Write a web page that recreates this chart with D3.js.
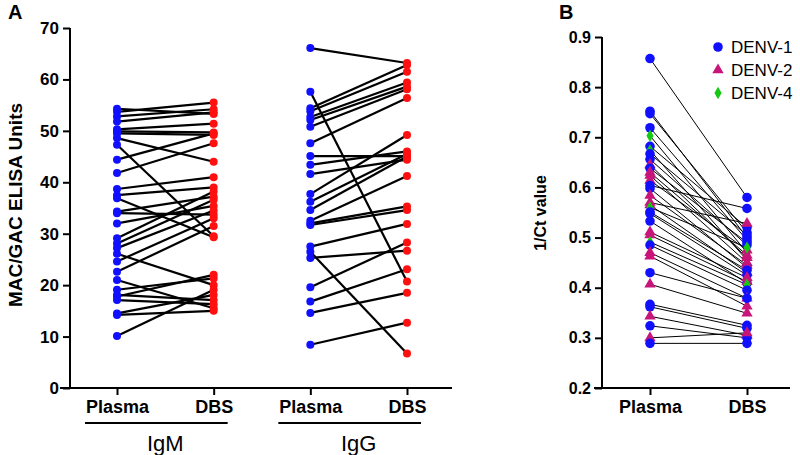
<!DOCTYPE html>
<html><head><meta charset="utf-8">
<script src="https://cdn.jsdelivr.net/npm/d3@7"></script>
<style>body{margin:0;background:#fff}svg{display:block}text{font-family:"Liberation Sans",Arial,sans-serif}</style>
</head><body><svg id="c" width="800" height="455"></svg>
<script>
// Panel A data (paired: plasma[i] -> dbs[i])
const igmPlasma = [54.3,53.7,52.8,51.8,50.3,49.9,49.5,48.6,47.3,44.4,41.8,38.7,37.5,36.9,34.3,34.0,32.0,29.1,28.1,27.2,26.1,24.6,22.6,21.0,19.1,18.1,17.8,17.1,14.5,14.2,10.1];
const igmDBS    = [53.3,55.5,54.2,53.6,51.4,49.7,49.2,44.0,29.5,49.5,47.6,41.0,39.0,29.3,37.2,33.7,35.4,38.2,36.6,34.5,20.0,33.0,31.5,15.5,21.3,17.1,22.0,16.3,18.1,15.0,19.1];
const iggPlasma = [66.1,57.6,54.4,53.8,52.7,52.1,50.8,47.6,45.1,43.4,41.6,37.7,36.2,34.6,32.5,32.0,31.7,27.5,26.5,25.3,19.6,16.8,14.6,8.4];
const iggDBS    = [63.2,20.7,62.8,61.5,59.4,58.6,58.1,56.4,45.1,46.0,44.4,49.2,45.5,45.0,41.2,35.3,34.6,31.9,6.7,26.7,28.3,23.1,18.5,12.7];
const groupsA = ["IgM","IgG"];
const sampleLabels = ["Plasma","DBS"];
const ticksA = [0,10,20,30,40,50,60,70];

// Panel B data
const ctPlasma = [0.857,0.752,0.747,0.719,0.703,0.682,0.674,0.667,0.656,0.645,0.638,0.630,0.624,0.614,0.604,0.598,0.584,0.570,0.565,0.560,0.551,0.548,0.533,0.511,0.505,0.491,0.485,0.470,0.463,0.430,0.407,0.367,0.362,0.343,0.324,0.300,0.289];
const ctDBS    = [0.580,0.500,0.510,0.495,0.470,0.520,0.455,0.505,0.485,0.460,0.490,0.465,0.450,0.475,0.558,0.440,0.445,0.528,0.430,0.480,0.435,0.425,0.409,0.420,0.412,0.406,0.395,0.379,0.363,0.379,0.349,0.325,0.319,0.305,0.300,0.310,0.289];
const ctType   = [1,1,1,1,4,1,4,1,1,2,1,2,2,2,1,1,2,2,2,4,1,1,1,2,2,4,1,2,2,1,2,1,1,2,1,2,1];
const legendLabels = ["DENV-1","DENV-2","DENV-4"];
const legendTypes = [1,2,4];
const ticksB = [0.2,0.3,0.4,0.5,0.6,0.7,0.8,0.9];

const svg = d3.select("#c");
const BLUE="#1010ff", RED="#ff1010";
const typeColor = {1:"#1010ff",2:"#c8157a",4:"#14c814"};
const typeSym = {1:d3.symbolCircle,2:d3.symbolTriangle,4:d3.symbolDiamond};
const typeSize = {1:72,2:56,4:44};

// ---------- Panel A ----------
const yA = d3.scaleLinear().domain([0,70]).range([388,28]);
const xA = d3.scalePoint().domain(["IgM-Plasma","IgM-DBS","IgG-Plasma","IgG-DBS"]).range([117,407]);
const gA = svg.append("g");
const yAxA = gA.append("g").attr("transform","translate(70,0)")
  .call(d3.axisLeft(yA).tickValues(ticksA).tickSize(7).tickPadding(4).tickFormat(d3.format("d")));
const xAxA = gA.append("g").attr("transform","translate(0,388)")
  .call(d3.axisBottom(xA).tickSize(7).tickPadding(5).tickFormat(d=>d.split("-")[1]));
xAxA.select(".domain").attr("d","M60,0H452");
[yAxA,xAxA].forEach(a=>{a.selectAll("path,line").attr("stroke","#000").attr("stroke-width",2);
  a.selectAll("text").attr("fill","#000").attr("font-size",17).attr("font-weight","bold");});
yAxA.select(".domain").attr("d","M0,28V388");
xAxA.selectAll("text").attr("font-size",18);

const pairsA = [];
[[igmPlasma,igmDBS,"IgM"],[iggPlasma,iggDBS,"IgG"]].forEach(([p,d,g])=>{
  p.forEach((v,i)=>pairsA.push({g,p:v,d:d[i]}));
});
gA.selectAll(".la").data(pairsA).join("line")
  .attr("x1",d=>xA(d.g+"-Plasma")).attr("x2",d=>xA(d.g+"-DBS"))
  .attr("y1",d=>yA(d.p)).attr("y2",d=>yA(d.d))
  .attr("stroke","#000").attr("stroke-width",2.2);
gA.selectAll(".pp").data(pairsA).join("circle")
  .attr("cx",d=>xA(d.g+"-Plasma")).attr("cy",d=>yA(d.p)).attr("r",4).attr("fill",BLUE);
gA.selectAll(".pd").data(pairsA).join("circle")
  .attr("cx",d=>xA(d.g+"-DBS")).attr("cy",d=>yA(d.d)).attr("r",4).attr("fill",RED);

// group brackets
groupsA.forEach(g=>{
  const x0 = xA(g+"-Plasma")-32, x1 = xA(g+"-DBS")+14;
  gA.append("line").attr("x1",x0).attr("x2",x1).attr("y1",423).attr("y2",423).attr("stroke","#000").attr("stroke-width",2);
  gA.append("text").attr("x",(xA(g+"-Plasma")+xA(g+"-DBS"))/2).attr("y",451).attr("text-anchor","middle")
    .attr("font-size",22).text(g);
});
gA.append("text").attr("transform","translate(22,205) rotate(-90)").attr("text-anchor","middle")
  .attr("font-size",19).attr("font-weight","bold").text("MAC/GAC ELISA Units");
gA.append("text").attr("x",8).attr("y",19).attr("font-size",20).attr("font-weight","bold").text("A");

// ---------- Panel B ----------
const yB = d3.scaleLinear().domain([0.2,0.9]).range([388,37]);
const xB = d3.scalePoint().domain(sampleLabels).range([650,747]);
const gB = svg.append("g");
const yAxB = gB.append("g").attr("transform","translate(602,0)")
  .call(d3.axisLeft(yB).tickValues(ticksB).tickSize(7).tickPadding(4).tickFormat(d3.format(".1f")));
const xAxB = gB.append("g").attr("transform","translate(0,388)")
  .call(d3.axisBottom(xB).tickSize(7).tickPadding(5));
xAxB.select(".domain").attr("d","M594,0H790");
yAxB.select(".domain").attr("d","M0,37V388");
[yAxB,xAxB].forEach(a=>{a.selectAll("path,line").attr("stroke","#000").attr("stroke-width",2);
  a.selectAll("text").attr("fill","#000").attr("font-size",16).attr("font-weight","bold");});
xAxB.selectAll("text").attr("font-size",18);

const pairsB = ctPlasma.map((v,i)=>({p:v,d:ctDBS[i],t:ctType[i]}));
gB.selectAll(".lb").data(pairsB).join("line")
  .attr("x1",xB("Plasma")).attr("x2",xB("DBS"))
  .attr("y1",d=>yB(d.p)).attr("y2",d=>yB(d.d))
  .attr("stroke","#000").attr("stroke-width",1);
const sym = t=>d3.symbol().type(typeSym[t]).size(typeSize[t])();
gB.selectAll(".sp").data(pairsB).join("path")
  .attr("transform",d=>`translate(${xB("Plasma")},${yB(d.p)})`).attr("d",d=>sym(d.t)).attr("fill",d=>typeColor[d.t]);
gB.selectAll(".sd").data(pairsB).join("path")
  .attr("transform",d=>`translate(${xB("DBS")},${yB(d.d)})`).attr("d",d=>sym(d.t)).attr("fill",d=>typeColor[d.t]);

gB.append("text").attr("transform","translate(546,213) rotate(-90)").attr("text-anchor","middle")
  .attr("font-size",16).attr("font-weight","bold").text("1/Ct value");
gB.append("text").attr("x",559).attr("y",19).attr("font-size",20).attr("font-weight","bold").text("B");

const leg = gB.selectAll(".leg").data(legendTypes).join("g")
  .attr("transform",(d,i)=>`translate(718,${47+i*23})`);
leg.append("path").attr("d",d=>sym(d)).attr("fill",d=>typeColor[d]);
leg.append("text").attr("x",13).attr("y",6).attr("font-size",17).text((d,i)=>legendLabels[i]);
</script></body></html>
